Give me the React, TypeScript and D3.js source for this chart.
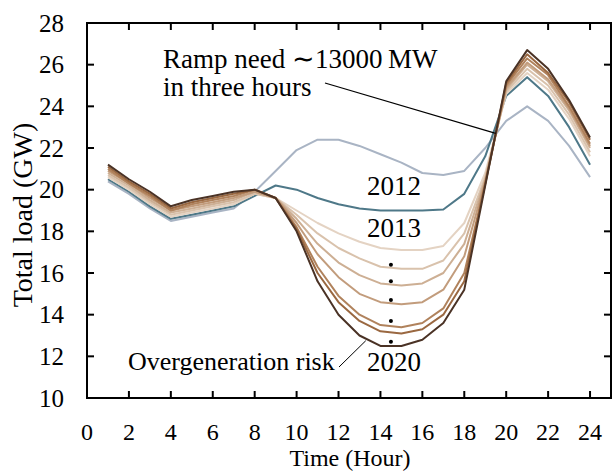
import React from "react";
import * as d3 from "d3";

const hours = [1, 2, 3, 4, 5, 6, 7, 8, 9, 10, 11, 12, 13, 14, 15, 16, 17, 18, 19, 20, 21, 22, 23, 24];

const years = ["2012", "2013", "2014", "2015", "2016", "2017", "2018", "2019", "2020"];

const load2012 = [20.4, 19.8, 19.1, 18.5, 18.7, 18.9, 19.1, 19.9, 20.9, 21.9, 22.4, 22.4, 22.1, 21.7, 21.3, 20.8, 20.7, 20.9, 22.0, 23.3, 24.0, 23.3, 22.1, 20.6];
const load2013 = [20.5, 19.9, 19.2, 18.6, 18.8, 19.0, 19.2, 19.7, 20.2, 20.0, 19.6, 19.3, 19.1, 19.0, 19.0, 19.0, 19.05, 19.8, 21.6, 24.5, 25.4, 24.5, 23.0, 21.2];
const load2014 = [20.6, 20.0, 19.3, 18.7, 18.9, 19.1, 19.3, 19.8, 19.6, 19.0, 18.4, 17.9, 17.5, 17.2, 17.1, 17.1, 17.3, 18.4, 20.8, 24.6, 25.6, 24.8, 23.4, 21.6];
const load2015 = [20.7, 20.1, 19.4, 18.8, 19.0, 19.2, 19.4, 19.8, 19.6, 18.8, 17.9, 17.2, 16.7, 16.3, 16.2, 16.2, 16.6, 17.9, 20.6, 24.7, 25.8, 25.0, 23.6, 21.8];
const load2016 = [20.8, 20.2, 19.5, 18.9, 19.1, 19.3, 19.5, 19.9, 19.6, 18.6, 17.4, 16.5, 15.9, 15.5, 15.4, 15.5, 16.0, 17.4, 20.5, 24.8, 26.0, 25.2, 23.8, 22.0];
const load2017 = [20.9, 20.3, 19.6, 19.0, 19.2, 19.4, 19.6, 19.9, 19.6, 18.4, 16.9, 15.8, 15.0, 14.6, 14.5, 14.6, 15.2, 16.8, 20.4, 24.9, 26.1, 25.3, 23.9, 22.1];
const load2018 = [21.0, 20.3, 19.7, 19.0, 19.3, 19.5, 19.7, 20.0, 19.6, 18.2, 16.3, 14.9, 14.0, 13.5, 13.4, 13.6, 14.3, 16.0, 20.3, 25.0, 26.3, 25.5, 24.0, 22.2];
const load2019 = [21.1, 20.4, 19.8, 19.1, 19.4, 19.6, 19.8, 20.0, 19.6, 18.1, 16.0, 14.6, 13.7, 13.2, 13.1, 13.3, 14.0, 15.6, 20.3, 25.1, 26.5, 25.6, 24.2, 22.4];
const load2020 = [21.2, 20.5, 19.9, 19.2, 19.5, 19.7, 19.9, 20.0, 19.6, 18.0, 15.6, 14.0, 13.0, 12.5, 12.5, 12.8, 13.6, 15.2, 20.2, 25.2, 26.7, 25.8, 24.3, 22.5];

const seriesValues = [load2012, load2013, load2014, load2015, load2016, load2017, load2018, load2019, load2020];
const seriesColors = ["#A9B4C4", "#4E7888", "#E4D3C3", "#D9C2AC", "#CDAF94", "#C29C7C", "#B0825C", "#9A6841", "#4A3225"];

const xTicks = [0, 2, 4, 6, 8, 10, 12, 14, 16, 18, 20, 22, 24];
const yTicks = [10, 12, 14, 16, 18, 20, 22, 24, 26, 28];

const W = 614;
const H = 473;
const left = 87, right = 611, top = 23, bottom = 398;
const FONT = "'Liberation Serif', 'Times New Roman', serif";

export default function App() {
  const x = d3.scaleLinear().domain([0, 25]).range([left, right]);
  const y = d3.scaleLinear().domain([10, 28]).range([bottom, top]);
  const line = d3
    .line<number>()
    .x((_, i) => x(hours[i]))
    .y((v) => y(v));

  const tickLen = 7;
  const dotYs = [16.4, 15.6, 14.7, 13.7, 12.7];

  return (
    <svg
      width={W}
      height={H}
      style={{ position: "absolute", left: 0, top: 0, background: "#fff" }}
      fontFamily={FONT}
    >
      <rect x={0} y={0} width={W} height={H} fill="#fff" />
      {seriesValues.map((vals, i) => (
        <path
          key={years[i]}
          d={line(vals) || ""}
          fill="none"
          stroke={seriesColors[i]}
          strokeWidth={2}
          strokeLinejoin="round"
        />
      ))}
      <rect x={left} y={top} width={right - left} height={bottom - top} fill="none" stroke="#000" strokeWidth={2} />
      {xTicks.filter((t) => t > 0).map((t) => (
        <g key={"xt" + t}>
          <line x1={x(t)} x2={x(t)} y1={bottom} y2={bottom - tickLen} stroke="#000" strokeWidth={2} />
          <line x1={x(t)} x2={x(t)} y1={top} y2={top + tickLen} stroke="#000" strokeWidth={2} />
        </g>
      ))}
      {yTicks.filter((t) => t > 10 && t < 28).map((t) => (
        <g key={"yt" + t}>
          <line x1={left} x2={left + tickLen} y1={y(t)} y2={y(t)} stroke="#000" strokeWidth={2} />
          <line x1={right} x2={right - tickLen} y1={y(t)} y2={y(t)} stroke="#000" strokeWidth={2} />
        </g>
      ))}
      {xTicks.map((t) => (
        <text key={"xl" + t} x={x(t)} y={440} textAnchor="middle" fontSize={24} fill="#000">
          {t}
        </text>
      ))}
      {yTicks.map((t) => (
        <text key={"yl" + t} x={64} y={y(t) + 8.5} textAnchor="end" fontSize={25} fill="#000">
          {t}
        </text>
      ))}
      <text x={350} y={466} textAnchor="middle" fontSize={24} fill="#000">
        Time (Hour)
      </text>
      <text
        transform={`translate(32, 215) rotate(-90)`}
        textAnchor="middle"
        fontSize={28}
        fill="#000"
      >
        Total load (GW)
      </text>
      <text x={163} y={68} fontSize={27} fill="#000">
        Ramp need ∼13000{"\u2009"}MW
      </text>
      <text x={163} y={96} fontSize={27} fill="#000">
        in three hours
      </text>
      <line x1={325} y1={83} x2={x(19.5)} y2={y(22.7)} stroke="#000" strokeWidth={1.2} />
      <text x={394} y={195} textAnchor="middle" fontSize={27} fill="#000">
        2012
      </text>
      <text x={394} y={237} textAnchor="middle" fontSize={27} fill="#000">
        2013
      </text>
      {dotYs.map((v, i) => (
        <circle key={"d" + i} cx={x(14.5)} cy={y(v)} r={2} fill="#000" />
      ))}
      <text x={394} y={371} textAnchor="middle" fontSize={27} fill="#000">
        2020
      </text>
      <text x={128} y={370} fontSize={26} fill="#000">
        Overgeneration risk
      </text>
      <line x1={339} y1={367} x2={x(13.3)} y2={y(12.75)} stroke="#000" strokeWidth={1} />
    </svg>
  );
}
